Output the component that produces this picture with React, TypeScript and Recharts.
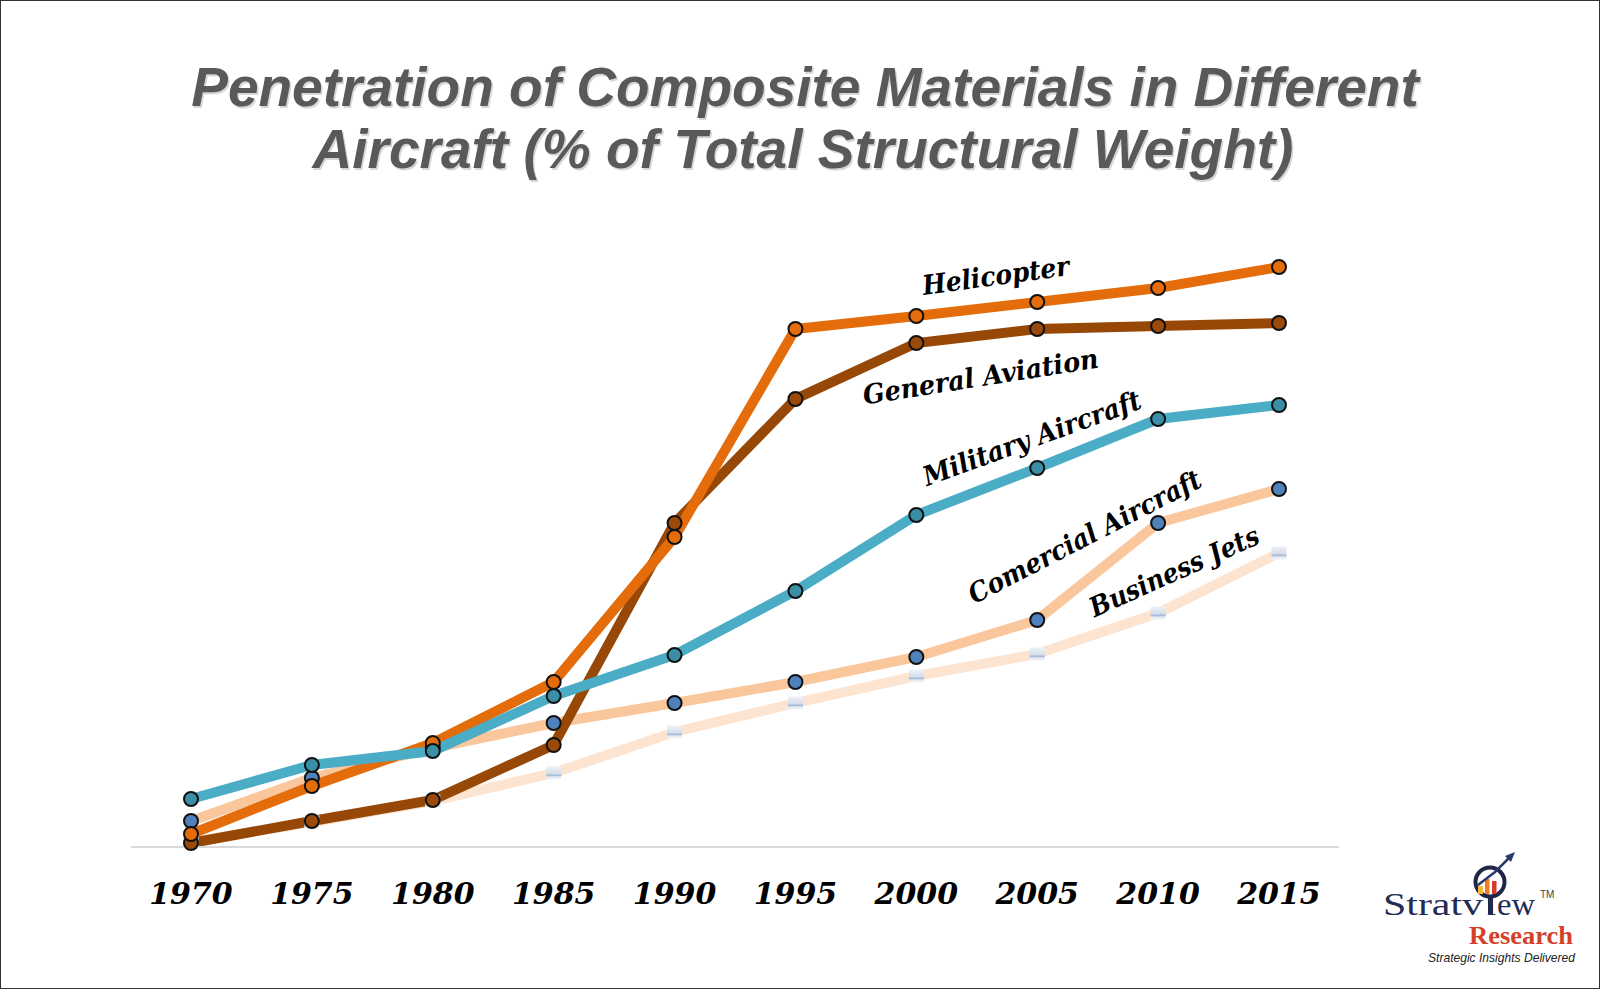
import { LineChart, Line, XAxis, YAxis } from 'recharts'

const years = ['1970', '1975', '1980', '1985', '1990', '1995', '2000', '2005', '2010', '2015']
const helicopter = [1.3, 6.1, 10.4, 16.5, 31.0, 51.8, 53.1, 54.5, 55.9, 58.0]
const generalAviation = [0.4, 2.6, 4.7, 10.2, 32.4, 44.8, 50.4, 51.8, 52.1, 52.4]
const military = [4.8, 8.2, 9.6, 15.1, 19.2, 25.6, 33.2, 37.9, 42.8, 44.2]
const commercial = [2.6, 6.9, 9.9, 12.4, 14.4, 16.5, 19.0, 22.7, 32.4, 35.8]
const businessJets = [0.5, 2.5, 4.6, 7.4, 11.5, 14.4, 17.1, 19.3, 23.4, 29.4]

const data = years.map((year, i) => ({
  year,
  helicopter: helicopter[i],
  generalAviation: generalAviation[i],
  military: military[i],
  commercial: commercial[i],
  businessJets: businessJets[i],
}))

// series labels sitting along the lines
const seriesLabels = [
  { text: 'Helicopter', x: 997, y: 285, angle: -7.7, length: 148 },
  { text: 'General Aviation', x: 982, y: 386, angle: -9, length: 238 },
  { text: 'Military Aircraft', x: 1035, y: 447, angle: -20, length: 230 },
  { text: 'Comercial Aircraft', x: 1089, y: 545, angle: -27.3, length: 258 },
  { text: 'Business Jets', x: 1178, y: 580, angle: -24.2, length: 183 },
]

const serif = '"DejaVu Serif", serif'

function YearTick({ x, y, payload }: any) {
  return (
    <text
      x={x}
      y={y + 57}
      textAnchor="middle"
      fontFamily={serif}
      fontWeight="bold"
      fontStyle="italic"
      fontSize={30}
      fill="#000"
    >
      {payload.value}
    </text>
  )
}

function circleDot(fill: string) {
  return { r: 7, fill, stroke: '#111', strokeWidth: 2 }
}

function SquareDot({ cx, cy, index }: any) {
  if (cx == null || cy == null) return null
  const id = `bj-grad-${index}`
  return (
    <g key={id}>
      <defs>
        <linearGradient id={id} x1="0" y1="0" x2="0" y2="1">
          <stop offset="0" stopColor="#EEF2F7" />
          <stop offset="0.55" stopColor="#D5DEEA" />
          <stop offset="0.68" stopColor="#A3B8D4" />
          <stop offset="0.8" stopColor="#E0E7F0" />
          <stop offset="1" stopColor="#F5F7FA" />
        </linearGradient>
      </defs>
      <rect x={cx - 7.5} y={cy - 6.5} width={15} height={13} fill={`url(#${id})`} />
    </g>
  )
}

function Overlay() {
  return (
    <svg
      width={1600}
      height={989}
      style={{ position: 'absolute', left: 0, top: 0, pointerEvents: 'none' }}
    >
      <rect x={0.5} y={0.5} width={1599} height={988} fill="none" stroke="#333" strokeWidth={1} />

      {/* title */}
      <g fontFamily='"Liberation Sans", Arial, sans-serif' fontWeight="bold" fontStyle="italic" fontSize={55} textAnchor="middle">
        <text x={806.5} y={107.5} fill="#D6D6D6">Penetration of Composite Materials in Different</text>
        <text x={805} y={106} fill="#595959">Penetration of Composite Materials in Different</text>
        <text x={804.5} y={169.5} fill="#D6D6D6">Aircraft (% of Total Structural Weight)</text>
        <text x={803} y={168} fill="#595959">Aircraft (% of Total Structural Weight)</text>
      </g>

      {seriesLabels.map((l) => (
        <text
          key={l.text}
          x={l.x}
          y={l.y}
          textAnchor="middle"
          transform={`rotate(${l.angle} ${l.x} ${l.y})`}
          fontFamily={serif}
          fontWeight="bold"
          fontStyle="italic"
          fontSize={27}
          textLength={l.length}
          lengthAdjust="spacingAndGlyphs"
          fill="#000"
        >
          {l.text}
        </text>
      ))}

      {/* logo */}
      <g>
        <circle cx={1490} cy={882} r={14.5} fill="#fff" stroke="#1F2748" strokeWidth={4} />
        <rect x={1478} y={886} width={5} height={8} fill="#F4B73A" />
        <rect x={1485} y={879} width={4.5} height={15} fill="#EE7D24" />
        <rect x={1492} y={881} width={4.5} height={13} fill="#D63A2A" />
        <polyline points="1478,885 1495,872 1510,857" fill="none" stroke="#2A3A6A" strokeWidth={2.5} />
        <polygon points="1515,852 1505,856 1511,862" fill="#2A3A6A" />
        <rect x={1488} y={897} width={5} height={17.5} fill="#1F2748" />
        <text fontFamily='"Liberation Serif", serif' fontSize={32} fill="#232B55">
          <tspan x={1383} y={914.5} textLength={100} lengthAdjust="spacingAndGlyphs">Stratv</tspan>
          <tspan x={1487} y={914.5}>ı</tspan>
          <tspan x={1497} y={914.5} textLength={38} lengthAdjust="spacingAndGlyphs">ew</tspan>
        </text>
        <text x={1540} y={898} fontFamily='"Liberation Sans", Arial, sans-serif' fontSize={10} fill="#444">TM</text>
        <text x={1469} y={944} fontFamily='"Liberation Serif", serif' fontWeight="bold" fontSize={25} fill="#D4402A" textLength={104} lengthAdjust="spacingAndGlyphs">Research</text>
        <text x={1428} y={962} fontFamily='"Liberation Sans", Arial, sans-serif' fontStyle="italic" fontSize={13.5} fill="#222" textLength={147} lengthAdjust="spacingAndGlyphs">Strategic Insights Delivered</text>
      </g>
    </svg>
  )
}

export default function App() {
  return (
    <div style={{ position: 'absolute', left: 0, top: 0, width: 1600, height: 989, background: '#fff' }}>
      <LineChart
        width={1600}
        height={989}
        data={data}
        margin={{ top: 247, right: 261, bottom: 82, left: 131 }}
      >
        <XAxis
          dataKey="year"
          height={60}
          padding={{ left: 60, right: 60 }}
          axisLine={{ stroke: '#D9D9D9', strokeWidth: 2 }}
          tickLine={false}
          tickSize={0}
          tickMargin={0}
          interval={0}
          tick={<YearTick />}
        />
        <YAxis hide domain={[0, 60]} />
        <Line
          dataKey="businessJets"
          stroke="#FDE4D1"
          strokeWidth={10}
          dot={<SquareDot />}
          isAnimationActive={false}
        />
        <Line
          dataKey="commercial"
          stroke="#FAC69C"
          strokeWidth={10}
          dot={circleDot('#4F81BD')}
          isAnimationActive={false}
        />
        <Line
          dataKey="generalAviation"
          stroke="#974706"
          strokeWidth={10}
          dot={circleDot('#9C4A0A')}
          isAnimationActive={false}
        />
        <Line
          dataKey="helicopter"
          stroke="#E46C0A"
          strokeWidth={10}
          dot={circleDot('#E46C0A')}
          isAnimationActive={false}
        />
        <Line
          dataKey="military"
          stroke="#4BACC6"
          strokeWidth={10}
          dot={circleDot('#3A8FA6')}
          isAnimationActive={false}
        />
      </LineChart>
      <Overlay />
    </div>
  )
}
